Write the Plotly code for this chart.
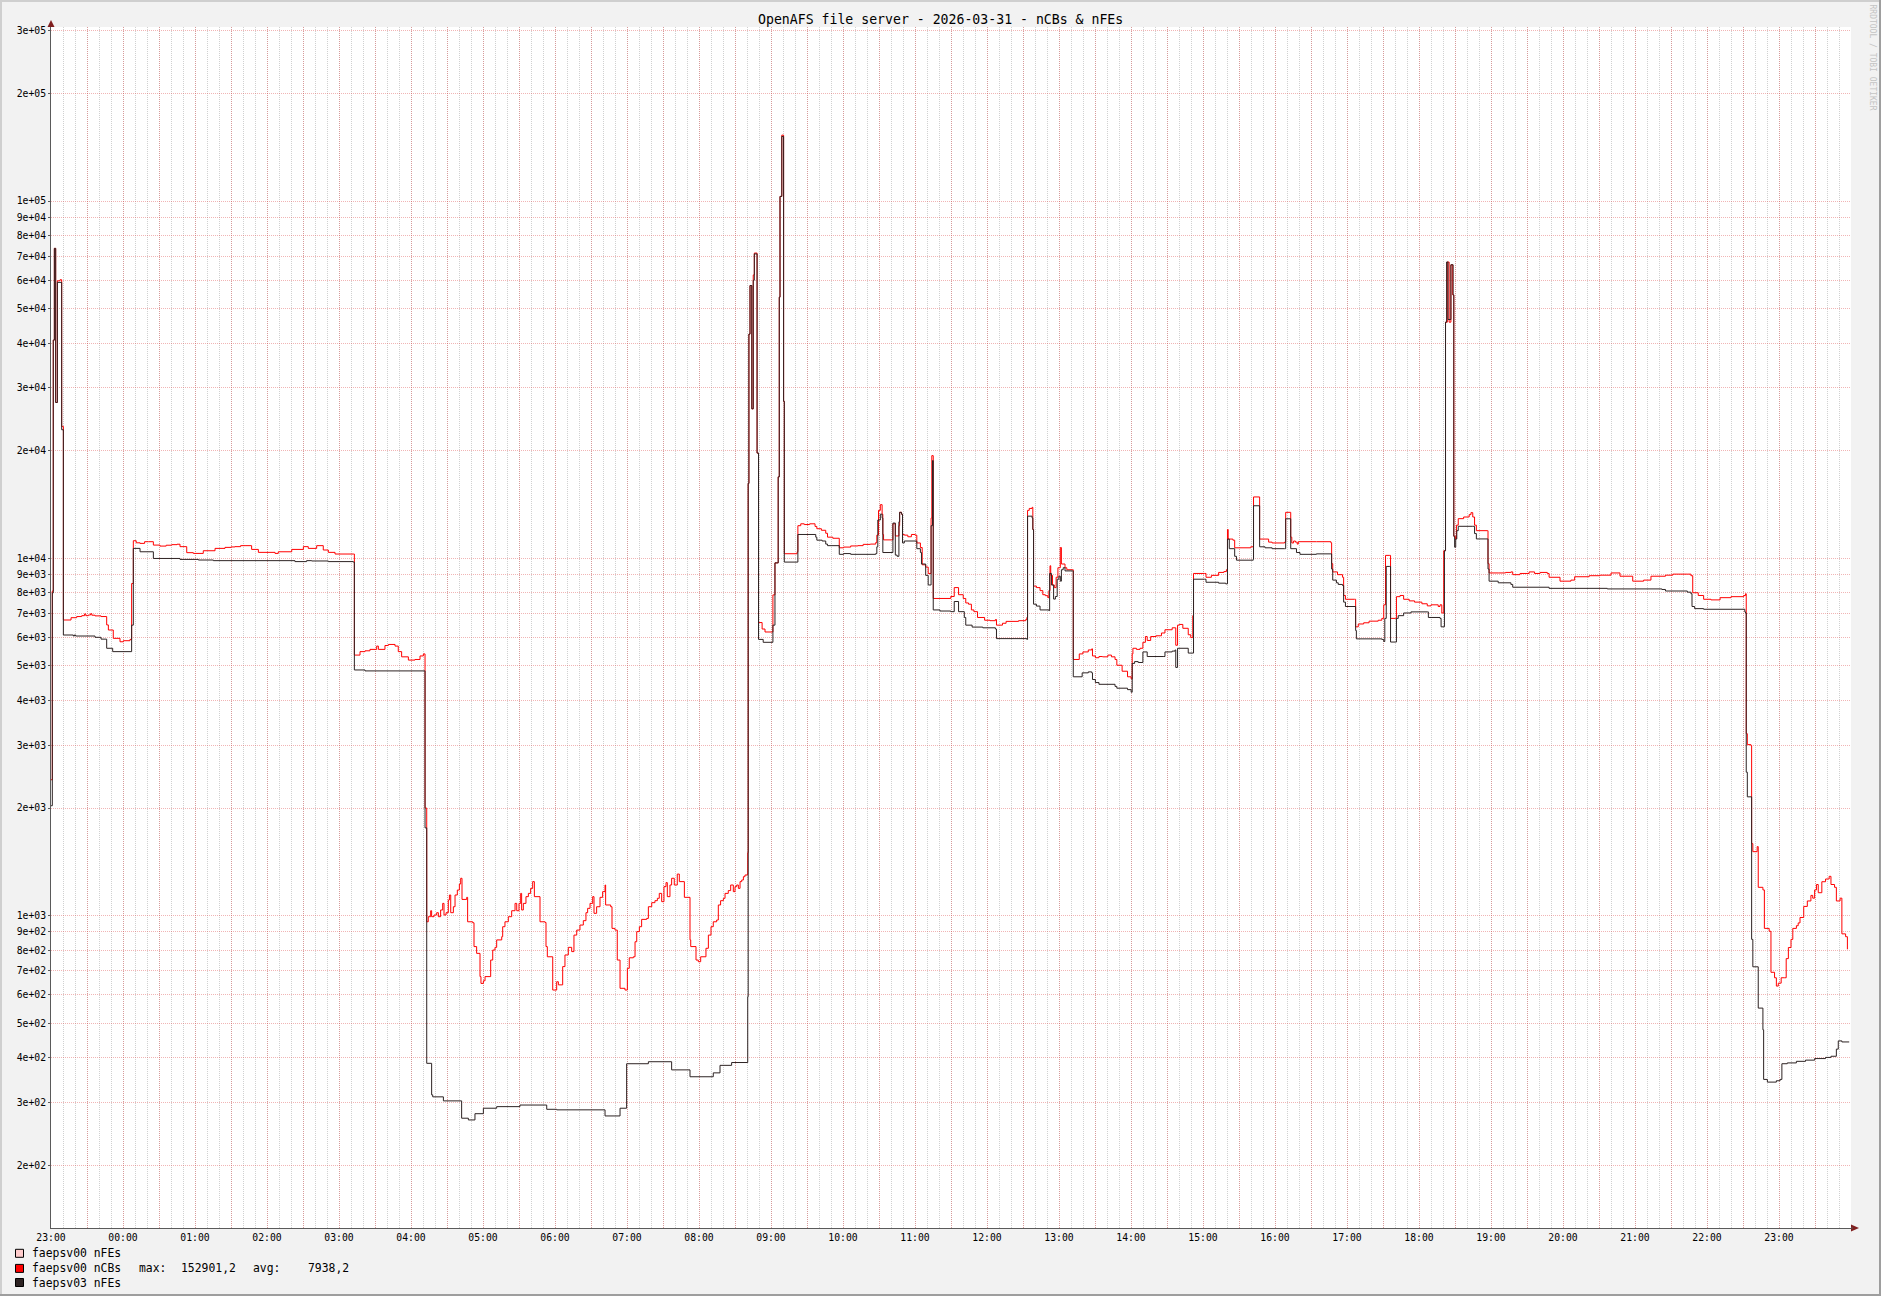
import plotly.graph_objects as go
import pandas as pd

# ---------------- data (minutes after 2026-03-30 23:00, values) ----------------
red_min = [0, 1.1, 1.9, 2.8, 3.9, 5.3, 7.5, 8.9, 10.3, 16.7, 21.4, 25.6, 28, 29, 31.1, 33, 34, 36.7, 41.7, 46.4,
           47.8, 51.9, 57.5, 60.3, 65.8, 67.2, 68.6, 71, 74.2, 78, 81.1, 85.3, 90.8, 96, 100.6, 105, 107.5, 113.1,
           118.6, 126.9, 136.7, 145, 150, 153.3, 158, 161.7, 167.2, 172.8, 186.7, 189.4, 200.6, 210.3, 214.4,
           221.4, 226.9, 231.1, 236.7, 251.9, 252.8, 257.5, 261.7, 265.8, 271.4, 272.8, 278.3, 281.1, 286.7,
           289.4, 292.2, 297.8, 303.3, 307.5, 310.3, 311.7,
           313.1, 314.4, 316.4, 317.2, 319.2, 321.4, 322.8, 324.7, 326.4, 327.5, 329.2, 331.1, 332.0, 333.1,
           335.3, 336.7, 338.6, 340.3, 341.4, 342.5, 346.4, 347.2, 351.4, 352.5, 354.7, 357.5, 358.3, 360.3,
           361.7, 366.4, 368.1, 370.0, 371.4, 375.6, 376.4, 378.3, 381.1, 383.9, 386.7, 388.1, 390.0, 391.4,
           392.2, 393.6, 395.8, 397.8, 399.7, 401.4, 402.8, 407.5, 411.7, 412.5, 413.6, 418.1, 421.4, 422.8,
           426.4, 428.3, 431.1, 433.9, 435.8, 438.1, 440.8, 443.6, 445.8, 447.2, 449.2, 451.4, 452.5, 454.7,
           457.5, 459.7, 461.7, 462.2, 466.4, 467.5, 470.0, 471.9, 474.2, 478.3, 480.3, 481.9, 485.3, 486.7,
           488.1, 490.3, 492.2, 496.4, 497.8, 500.6, 503.3, 505.3, 506.9, 508.9, 510.8, 512.5, 513.6, 515.8,
           517.2, 519.4, 521.9, 523.6, 527.8, 532.5, 533.1, 537.5, 539.4, 541.4, 545.8, 547.8, 550.0, 551.9,
           554.7, 556.1, 558.0, 560.3, 561.7, 564.4, 566.4, 568.6, 570.0, 571.4, 572.8, 574.2, 575.6, 577.0,
           578.3, 580.3,
           580.6, 581, 581.6, 582.5, 584, 585.2, 586.1, 588.4, 589.6, 592.6, 595, 601.6, 603.3, 606, 606.9,
           607.5, 609, 610.5, 611.1, 621.8, 622.4, 624.8, 627.7, 632.2, 636.7, 638.2, 642, 645.6, 647.1, 651.5,
           656.9, 660.5, 666.4, 672.4, 676.8, 682.8, 687.3, 688.2, 689.6, 691.1, 692.6, 693.2, 693.8, 700.7,
           701.6, 703.6, 706.6, 707.2, 708.7, 709.6, 711.1, 714, 717, 720, 721.5, 724.5, 726, 728.9, 731, 733.4,
           734, 735.2, 740.8, 749.8, 752.7, 756.3, 760.2, 762.3, 764.6, 767, 769.1, 772.1, 778, 782.5, 787,
           787.9, 792.9, 795.9, 806.3, 812.3, 813.2, 813.8, 815.2, 817.6, 818.2, 818.8, 821.2, 824.2, 826.5,
           828.6, 830.7, 831.6, 832.5, 833.1, 834.6, 836.1, 837.6, 839.1, 841.1, 842, 845, 846.5, 851, 851.9,
           856.9, 859.9, 864.4, 867.3, 867.9, 870.3, 873.3, 876.3, 880.7, 883.7, 886.7, 888.2, 892.6, 897.1,
           900.1, 901, 901.6, 904.5, 907.5, 909.9, 912, 913.5, 916.4, 920.9, 925.4, 928.3, 934.3, 937.3, 938.8,
           940.2, 943.2, 947.7, 949.8, 951.5, 952.1, 961.1, 962.5, 967, 973, 977.4, 979.5, 980.4, 981, 984.9,
           986.4, 990.8, 999.8, 1001.9, 1002.1, 1007.2, 1011.7, 1014.7, 1017.6, 1028, 1028.9, 1032.5, 1033.1,
           1034, 1035.5, 1037, 1038.5,
           1039.4, 1054.5, 1066.6, 1067.2, 1068.1, 1072.1, 1076.3, 1077.2, 1078.7, 1086.3, 1087.2, 1089.4,
           1093.9, 1098.4, 1106, 1109, 1110.6, 1112.1, 1115.1, 1116.3, 1120.6, 1121.2, 1124.2, 1127.2, 1131.8,
           1136.3, 1142.4, 1146.9, 1150, 1156, 1157.5, 1159, 1160.6, 1162.1, 1163.6, 1165.1, 1166.6, 1168.1,
           1169, 1170.3, 1171.2, 1172.7, 1177.2, 1181.8, 1183.3, 1184.8, 1186.3, 1187.8, 1196.9, 1197.5, 1198.4,
           1206, 1212.1, 1216.6, 1218.1, 1224.2, 1231.8, 1236.3, 1240.9, 1246.9, 1248.4, 1257.5, 1266.6, 1269.7,
           1281.8, 1290.9, 1300, 1307.5, 1318.1, 1327.2, 1333.3, 1345.4, 1351.5, 1363.6, 1366.6, 1368.1, 1372.7,
           1377.2, 1383.3, 1390.9, 1400, 1410.6, 1412.1, 1412.7, 1413.6, 1416.6, 1417.2, 1418.2, 1421.8, 1422.7,
           1426.6, 1427.8, 1431.8, 1433.3, 1436.3, 1437.8, 1439.4, 1441.8, 1444.8, 1446, 1447.8, 1450, 1451.5,
           1454.5, 1456, 1457.5, 1460.6, 1463.6, 1466.6, 1468.1, 1469.7, 1471.2, 1472.7, 1475.7, 1478.8,
           1481.8, 1483.3, 1486.3, 1487.8, 1490.9, 1492.4, 1495.5, 1497]
red_val = [2400, 8100, 40800, 73700, 27300, 59800, 60200, 23400, 6720, 6820, 6870, 6910, 6990, 6910, 6940, 7000,
           6930, 6900, 6870, 6510, 6300, 5970, 5840, 5880, 5930, 8500, 11200, 11050, 11010, 11130, 11130, 10890,
           10820, 10880, 10920, 10950, 10780, 10370, 10320, 10500, 10660, 10730, 10760, 10780, 10850, 10850,
           10590, 10390, 10320, 10430, 10590, 10780, 10660, 10850, 10550, 10390, 10280, 10280, 5360, 5480, 5510,
           5560, 5680, 5560, 5700, 5740, 5680, 5480, 5300, 5190, 5210, 5330, 5400, 2000,
           961, 993, 1032, 993, 1004, 1019, 993, 1037, 1082, 1004, 1019, 1106, 1142, 1019, 1059, 1142, 1179,
           1226, 1272, 1110, 1125, 961, 955, 819, 784, 675, 646, 657, 675, 751, 801, 815, 855, 873, 931, 961,
           993, 1032, 1082, 1032, 1082, 1154, 1037, 1082, 1130, 1154, 1192, 1245, 1130, 961, 957, 819, 767, 619,
           653, 640, 720, 776, 815, 793, 882, 911, 941, 968, 1019, 1048, 1082, 1130, 1015, 1059, 1125, 1167,
           1218, 1071, 1059, 921, 911, 751, 626, 619, 712, 762, 767, 845, 902, 931, 976, 982, 1059, 1087, 1101,
           1118, 1154, 1094, 1205, 1237, 1130, 1218, 1272, 1218, 1307, 1245, 1125, 855, 819, 751, 743, 767, 810,
           882, 931, 961, 972, 1071, 1101, 1118, 1154, 1175, 1218, 1167, 1205, 1218, 1192, 1245, 1258, 1285,
           1299, 1307,
           1500, 16200, 42400, 58000, 26200, 62100, 71500, 19700, 6610, 6340, 6220, 7900, 9710, 16900, 53800,
           103000, 152900, 27500, 10300, 10430, 12340, 12490, 12430, 12490, 12280, 12100, 11980, 11750, 11460,
           11380, 10700, 10750, 10830, 10850, 10940, 10960, 11070, 11610, 13620, 14130, 13290, 11660, 11260,
           11260, 12490, 11550, 12340, 13450, 13290, 11660, 11610, 11490, 11660, 11610, 11040, 10720, 9590,
           9450, 9070, 12960, 19380, 7720, 7720, 7820, 8280, 7910, 7720, 7500, 7440, 7170, 7090, 6830, 6710,
           6690, 6740, 6500, 6580, 6660, 6690, 6740, 6830, 13620, 13790, 13890, 12040, 8360, 8280, 8120, 7910,
           7860, 7760, 8120, 9530, 8960, 8420, 8280, 8850, 9410, 10720, 9640, 9410, 9290, 9290, 5210, 5400,
           5470, 5540, 5580, 5330, 5270, 5310, 5300, 5360, 5300, 5210, 5020, 4830, 4660, 4600, 5400, 5600, 5560,
           5600, 5820, 6040, 5890, 6040, 6070, 6180, 6310, 6390, 5710, 6500, 6530, 6370, 6110, 6000, 6910, 9070,
           9070, 8850, 8960, 9130, 9180, 9290, 12040, 11320, 11240, 10700, 10700, 10770, 10830, 14850, 11320,
           11320, 11100, 11040, 11100, 13450, 13450, 11460, 11040, 11180, 11100, 10960,
           11130, 11130, 11050, 9660, 9160, 9000, 8850, 7870, 7680, 7680, 6430, 6550, 6600, 6670, 6710, 6790,
           7410, 10190, 10190, 6790, 6790, 7810, 7870, 7680, 7600, 7540, 7460, 7360, 7410, 7330, 7410, 7030,
           10500, 45800, 67500, 45800, 66300, 54600, 11530, 11330, 12380, 12910, 13050, 13250, 13420, 13050,
           12380, 11950, 11950, 9660, 9100, 9100, 9130, 9160, 9000, 9070, 9160, 9070, 9130, 9070, 8850, 8630,
           8690, 8880, 8940, 8970, 9100, 8910, 8630, 8690, 8910, 8970, 9030, 9030, 8940, 8010, 7870, 7680, 7650,
           7760, 7810, 7870, 7960, 3230, 3010, 2990, 1590, 1510, 1560, 1200, 1180, 921, 904, 694, 670, 635, 647,
           670, 670, 758, 814, 858, 921, 937, 954, 988, 1061, 1099, 1139, 1119, 1180, 1222, 1159, 1244, 1266,
           1288, 1222, 1200, 1099, 1119, 889, 873, 805]

blk_min = [0, 1.1, 1.9, 2.8, 3.9, 5.3, 8.9, 10.3, 18.6, 19.5, 20.5, 36.7, 41.7, 46.4, 51.4, 67.2, 68.6, 74.2,
           85.3, 107.5, 122.8, 135.3, 203.3, 213, 217.2, 231.1, 251.9, 252.8, 261.7, 311.7,
           313.1, 317.2, 318.1, 327, 342.2, 347.8, 353.3, 360.3, 371.4, 390.8, 413.1, 421.4, 461.7, 474.2,
           479.7, 497.8, 517.2, 532.5, 551.9, 557.5, 567.2, 580.6,
           581, 581.6, 582.5, 584, 585.2, 586.1, 588.4, 589.6, 593.5, 601.6, 603.3, 606, 606.9, 607.5, 609,
           610.5, 611.1, 622.4, 637.3, 638.2, 642.6, 645.6, 647.1, 656.9, 660.5, 666.4, 687.3, 688.2, 689,
           691.1, 692.6, 693.2, 701.6, 703.6, 705.1, 706.6, 707.2, 708.7, 709.6, 711.1, 721.5, 724.5, 725.4,
           728.9, 731, 733.4, 734.6, 735.2, 740.8, 749.8, 752.7, 756.3, 761.1, 762.3, 767.6, 776.5, 787, 787.9,
           813.2, 813.8, 817.6, 818.2, 818.8, 821.2, 824.2, 831.6, 832.2, 833.7, 835.5, 837, 838.5, 839.9,
           841.1, 842, 843.5, 845, 851, 851.9, 859.3, 864.4, 867.3, 867.9, 870.3, 873.3, 886.7, 888.2, 897.1,
           900.1, 901, 903, 906, 909.9, 913.5, 926.8, 928.3, 934.3, 936.7, 937.3, 938.8, 947.7, 952.1, 961.1,
           962.5, 973, 978.9, 980.4, 981.9, 986.4, 987.9, 1001.9, 1002.1, 1007.2, 1011.7, 1017.6, 1028, 1028.9,
           1032.5, 1033.1, 1037.9, 1040.8,
           1054.5, 1066.6, 1067.2, 1068.1, 1071.2, 1072.7, 1076.3, 1077.2, 1078.7, 1087.2, 1087.8, 1109, 1110.6,
           1111.5, 1112.7, 1115.7, 1116.3, 1120.6, 1121.2, 1122.7, 1127.2, 1133.3, 1146.9, 1147.8, 1157.5,
           1158.4, 1161.2, 1162.1, 1163, 1164.2, 1166.6, 1168.4, 1169, 1169.7, 1170.6, 1171.5, 1172.7, 1184.8,
           1186.3, 1187.8, 1196.9, 1197.5, 1198.4, 1206, 1216.6, 1218.1, 1248.4, 1296.9, 1342.4, 1345.4, 1363.6,
           1366.6, 1367.5, 1369.7, 1377.2, 1411.5, 1412.1, 1412.7, 1413.6, 1417.2, 1418.2, 1422.7, 1426.6,
           1427.2, 1430.3, 1437.8, 1440.9, 1442.4, 1446.9, 1454.5, 1462.1, 1469.7, 1478.8, 1483.3, 1487.8,
           1489.4, 1492.4, 1498.5]
blk_val = [2030, 8000, 40800, 73700, 27300, 59200, 22900, 6100, 6060, 6100, 6060, 6010, 5940, 5600, 5480, 6500,
           10660, 10430, 9990, 9930, 9890, 9850, 9790, 9850, 9830, 9790, 9760, 4870, 4840, 1760,
           386, 315, 311, 303, 271, 268, 279, 289, 292, 295, 287, 286, 275, 289, 385, 390, 370, 354, 363, 381,
           388, 593,
           16200, 42400, 58000, 26200, 60000, 71100, 19700, 5930, 5820, 6500, 9710, 16900, 53800, 103000,
           151600, 27500, 9760, 11660, 11460, 11240, 11180, 10960, 10850, 10260, 10310, 10260, 10310, 10770,
           12800, 13290, 12960, 10380, 12550, 10210, 10130, 12650, 13450, 13290, 11040, 11180, 10640, 10380,
           9640, 8960, 8420, 12340, 18770, 7170, 7120, 7090, 7570, 7090, 6830, 6500, 6420, 6390, 6340, 5960,
           5930, 13120, 12960, 12040, 7440, 7350, 7170, 7140, 9070, 8420, 7690, 7820, 8740, 8910, 8630, 9290,
           9410, 9220, 9220, 4660, 4780, 4810, 4780, 4580, 4490, 4440, 4380, 4330, 4290, 4220, 5080, 5140, 5110,
           5470, 5310, 5310, 5470, 5500, 5540, 4950, 5600, 5430, 8740, 8740, 8570, 8520, 8480, 11320, 10640,
           10130, 9880, 9930, 14030, 10770, 10700, 10640, 10640, 12900, 12900, 10640, 10380, 10260,
           10290, 10290, 9330, 8690, 8540, 8450, 8390, 7540, 7330, 6280, 5950, 5930, 5850, 6790, 9490, 9490,
           5830, 5830, 6790, 6910, 7030, 7080, 7080, 6830, 6790, 6430, 10500, 45800, 67500, 46600, 66300, 54600,
           11530, 10740, 11330, 11950, 12290, 12290, 11730, 11330, 11330, 9330, 8630, 8540, 8450, 8300, 8240,
           8210, 8180, 8100, 8040, 7960, 7330, 7230, 7200, 7080, 7030, 2520, 2150, 858, 719, 551, 479, 348, 342,
           345, 348, 385, 387, 391, 394, 398, 401, 404, 423, 446, 443, 443]

y_tick_vals = [200, 300, 400, 500, 600, 700, 800, 900, 1000, 2000, 3000, 4000, 5000, 6000, 7000, 8000, 9000,
               10000, 20000, 30000, 40000, 50000, 60000, 70000, 80000, 90000, 100000, 200000, 300000]
y_tick_text = ["2e+02", "3e+02", "4e+02", "5e+02", "6e+02", "7e+02", "8e+02", "9e+02", "1e+03", "2e+03",
               "3e+03", "4e+03", "5e+03", "6e+03", "7e+03", "8e+03", "9e+03", "1e+04", "2e+04", "3e+04",
               "4e+04", "5e+04", "6e+04", "7e+04", "8e+04", "9e+04", "1e+05", "2e+05", "3e+05"]
x_hour_labels = ["23:00", "00:00", "01:00", "02:00", "03:00", "04:00", "05:00", "06:00", "07:00", "08:00",
                 "09:00", "10:00", "11:00", "12:00", "13:00", "14:00", "15:00", "16:00", "17:00", "18:00",
                 "19:00", "20:00", "21:00", "22:00", "23:00"]

title_text = "OpenAFS file server - 2026-03-31 - nCBs & nFEs"
legend_names = ["faepsv00 nFEs", "faepsv00 nCBs", "faepsv03 nFEs"]
legend_colors = ["#ffcccc", "#ff0000", "#2d2323"]
stat_labels = ["max:", "avg:"]
stat_values = ["152901,2", "7938,2"]

# ---------------- figure ----------------
W, H = 1881, 1296
L, R, T, B = 51, 1851, 27, 1228
BASE = pd.Timestamp("2026-03-30 23:00")


def ts(mins):
    return [BASE + pd.Timedelta(minutes=m) for m in mins]


def PX(x):
    return (x - L) / (R - L)


def PY(y):
    return (B - y) / (B - T)


MONO = "DejaVu Sans Mono"
MGRID = "rgba(222,79,79,0.42)"
GRID = "rgba(143,143,143,0.42)"
AXIS = "#5a5a5a"
ARROW = "#801f1f"

fig = go.Figure()
fig.add_trace(go.Scatter(x=ts(red_min), y=red_val, mode="lines", name=legend_names[1],
                         line=dict(color=legend_colors[1], width=1, shape="hv"), showlegend=False))
fig.add_trace(go.Scatter(x=ts(blk_min), y=blk_val, mode="lines", name=legend_names[2],
                         line=dict(color=legend_colors[2], width=1, shape="hv"), showlegend=False))

xt_vals = [BASE + pd.Timedelta(minutes=30 * k) for k in range(50)]
xt_text = []
for k in range(50):
    xt_text.append(x_hour_labels[k // 2] if k % 2 == 0 else "")

fig.update_layout(
    width=W, height=H,
    margin=dict(l=L, r=W - R, t=T, b=H - B, pad=0),
    paper_bgcolor="#f2f2f2", plot_bgcolor="#ffffff",
    showlegend=False,
    font=dict(family=MONO, size=10, color="#000000"),
    xaxis=dict(
        type="date", range=[BASE, BASE + pd.Timedelta(minutes=1500)],
        tickmode="array", tickvals=xt_vals, ticktext=xt_text,
        showgrid=True, gridcolor=MGRID, gridwidth=1, griddash="1px,1px",
        minor=dict(dtick=600000, tick0=BASE, showgrid=True, gridcolor=GRID, gridwidth=1,
                   griddash="1px,1px", ticks=""),
        ticks="", ticklen=0,
        showline=True, linecolor=AXIS, linewidth=1,
        tickfont=dict(family=MONO, size=9.75, color="#000000"),
        zeroline=False, fixedrange=True,
    ),
    yaxis=dict(
        type="log", range=[2.1257, 5.487],
        tickmode="array", tickvals=y_tick_vals, ticktext=y_tick_text,
        showgrid=True, gridcolor=MGRID, gridwidth=1, griddash="1px,1px",
        ticks="outside", ticklen=2, tickcolor=AXIS,
        showline=True, linecolor=AXIS, linewidth=1,
        tickfont=dict(family=MONO, size=9.75, color="#000000"),
        zeroline=False, fixedrange=True,
    ),
)

shapes = []
# frame (3D border)
shapes.append(dict(type="rect", xref="paper", yref="paper", x0=PX(0), x1=PX(W), y0=PY(0), y1=PY(2),
                   fillcolor="#cfcfcf", line=dict(width=0)))
shapes.append(dict(type="rect", xref="paper", yref="paper", x0=PX(0), x1=PX(2), y0=PY(0), y1=PY(H),
                   fillcolor="#cfcfcf", line=dict(width=0)))
shapes.append(dict(type="rect", xref="paper", yref="paper", x0=PX(0), x1=PX(W), y0=PY(H - 2), y1=PY(H),
                   fillcolor="#9e9e9e", line=dict(width=0)))
shapes.append(dict(type="rect", xref="paper", yref="paper", x0=PX(W - 2), x1=PX(W), y0=PY(0), y1=PY(H),
                   fillcolor="#9e9e9e", line=dict(width=0)))
# axis arrows
shapes.append(dict(type="path", xref="paper", yref="paper",
                   path=f"M {PX(47.5)} {PY(27)} L {PX(51)} {PY(20)} L {PX(54.5)} {PY(27)} Z",
                   fillcolor=ARROW, line=dict(width=0)))
shapes.append(dict(type="path", xref="paper", yref="paper",
                   path=f"M {PX(1851)} {PY(1224.5)} L {PX(1859)} {PY(1228)} L {PX(1851)} {PY(1231.5)} Z",
                   fillcolor=ARROW, line=dict(width=0)))
shapes.append(dict(type="line", xref="paper", yref="paper", x0=PX(1851), x1=PX(1853), y0=0, y1=0,
                   line=dict(color=AXIS, width=1)))

annotations = []
annotations.append(dict(xref="paper", yref="paper", x=PX(940), y=PY(19.7), text=title_text,
                        showarrow=False, xanchor="center", yanchor="middle",
                        font=dict(family=MONO, size=13.2, color="#000000")))
annotations.append(dict(xref="paper", yref="paper", x=PX(1872), y=PY(57.5), text="RRDTOOL / TOBI OETIKER",
                        showarrow=False, textangle=90, xanchor="center", yanchor="middle",
                        font=dict(family=MONO, size=8, color="#c4c4c4")))

row_y = [1253.3, 1268.4, 1282.5]
for i, name in enumerate(legend_names):
    yc = row_y[i]
    shapes.append(dict(type="rect", xref="paper", yref="paper", x0=PX(15.5), x1=PX(23.5),
                       y0=PY(yc + 4), y1=PY(yc - 4), fillcolor=legend_colors[i],
                       line=dict(color="#000000", width=1)))
    annotations.append(dict(xref="paper", yref="paper", x=PX(30), y=PY(yc), text=name, showarrow=False,
                            xanchor="left", yanchor="middle", font=dict(family=MONO, size=11.4, color="#000000")))

stat_x = [136.5, 179.3, 250.5, 306]
stat_items = [stat_labels[0], stat_values[0], stat_labels[1], stat_values[1]]
for sx, st in zip(stat_x, stat_items):
    annotations.append(dict(xref="paper", yref="paper", x=PX(sx), y=PY(row_y[1]), text=st, showarrow=False,
                            xanchor="left", yanchor="middle", font=dict(family=MONO, size=11.4, color="#000000")))

fig.update_layout(shapes=shapes, annotations=annotations)
fig.write_html("out.html", config={"displayModeBar": False},
               post_script="document.body.style.margin='0px';")
